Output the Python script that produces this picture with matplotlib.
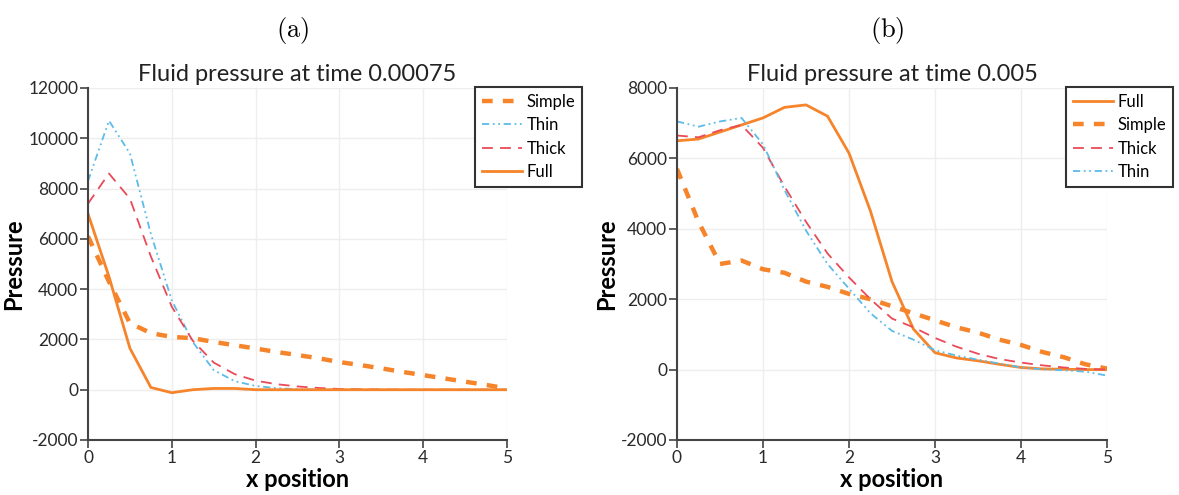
import matplotlib
matplotlib.use("Agg")
import matplotlib.pyplot as plt
import numpy as np

plt.rcParams['mathtext.fontset'] = 'cm'
plt.rcParams['font.family'] = ['Lato', 'DejaVu Sans']
plt.rcParams['axes.unicode_minus'] = False

x = [0, 0.25, 0.5, 0.75, 1.0, 1.25, 1.5, 1.75, 2.0, 2.25, 2.5, 2.75, 3.0,
     3.25, 3.5, 3.75, 4.0, 4.25, 4.5, 4.75, 5.0]

# Panel (a): time 0.00075
a_simple = [6100, 4300, 2650, 2250, 2100, 2050, 1900, 1770, 1640, 1500, 1380,
            1250, 1100, 980, 850, 710, 580, 450, 320, 190, 50]
a_thin = [8300, 10700, 9400, 6200, 3550, 1900, 780, 340, 150, 60, 20, 0, 0,
          0, 0, 0, 0, 0, 0, 0, 0]
a_thick = [7400, 8600, 7600, 5300, 3300, 1950, 1080, 620, 360, 220, 130, 70,
           30, 15, 5, 0, 0, 0, 0, 0, 0]
a_full = [7000, 4500, 1650, 90, -120, 0, 50, 50, 0, 0, 0, 0, 0, 0, 0, 0, 0,
          0, 0, 0, 0]

# Panel (b): time 0.005
b_full = [6500, 6550, 6750, 6950, 7150, 7450, 7520, 7200, 6150, 4500, 2500,
          1150, 480, 330, 250, 150, 60, 20, 10, 0, 0]
b_simple = [5700, 4200, 3000, 3100, 2850, 2750, 2500, 2350, 2150, 2000, 1800,
            1600, 1400, 1200, 1050, 850, 700, 500, 350, 150, 30]
b_thick = [6650, 6600, 6800, 6950, 6300, 5200, 4200, 3300, 2620, 2000, 1450,
           1200, 900, 650, 450, 300, 200, 120, 60, 20, 0]
b_thin = [7050, 6900, 7050, 7150, 6400, 5100, 3950, 3000, 2300, 1600, 1100,
          850, 550, 400, 280, 170, 60, 10, -20, -60, -170]

ORANGE = '#f6842a'
BLUE = '#5cbbe9'
RED = '#ea4a58'

styles = {
    'Simple': dict(color=ORANGE, lw=3.2, dashes=(2.4, 2.3)),
    'Thin': dict(color=BLUE, lw=1.3, dashes=(4, 2, 1, 2, 1, 2)),
    'Thick': dict(color=RED, lw=1.3, dashes=(6, 4)),
    'Full': dict(color=ORANGE, lw=2.0, linestyle='-'),
}

fig = plt.figure(figsize=(11.79, 4.95), dpi=100)

panels = [
    dict(rect=[88/1179, 1-440/495, (507-88)/1179, (440-88)/495],
         title='Fluid pressure at time 0.00075', tag='(a)',
         ylim=(-2000, 12000), yticks=np.arange(-2000, 12001, 2000),
         series=[('Simple', a_simple), ('Thin', a_thin), ('Thick', a_thick), ('Full', a_full)],
         leg=(475/1179, 1-87/495)),
    dict(rect=[677/1179, 1-440/495, (1107-677)/1179, (440-88)/495],
         title='Fluid pressure at time 0.005', tag='(b)',
         ylim=(-2000, 8000), yticks=np.arange(-2000, 8001, 2000),
         series=[('Full', b_full), ('Simple', b_simple), ('Thick', b_thick), ('Thin', b_thin)],
         leg=(1066/1179, 1-87/495)),
]

for p in panels:
    ax = fig.add_axes(p['rect'])
    for name, vals in p['series']:
        st = dict(styles[name])
        ax.plot(x, vals, label=name, **st)
    ax.set_xlim(0, 5)
    ax.set_ylim(*p['ylim'])
    ax.set_yticks(p['yticks'])
    ax.set_xticks([0, 1, 2, 3, 4, 5])
    ax.grid(True, color='#eeeeee', lw=1.0)
    ax.set_axisbelow(True)
    for s in ['top', 'right']:
        ax.spines[s].set_visible(False)
    for s in ['left', 'bottom']:
        ax.spines[s].set_color('#444444')
        ax.spines[s].set_linewidth(1.5)
    ax.tick_params(axis='both', colors='#444444', labelcolor='#2a2a2a',
                   labelsize=12.5, length=6, width=1.2, pad=1)
    ax.set_title(p['title'], fontsize=17, color='#222222', pad=5)
    ax.set_xlabel('x position', fontsize=17, fontweight='bold', labelpad=1.5)
    ax.set_ylabel('Pressure', fontsize=17, fontweight='bold', labelpad=2)
    leg = ax.legend(loc='upper left', bbox_to_anchor=p['leg'],
                    bbox_transform=fig.transFigure, fontsize=12,
                    frameon=True, fancybox=False, framealpha=1,
                    edgecolor='#333333', handlelength=2.4, handletextpad=0.3,
                    borderpad=0.4, labelspacing=0.45, borderaxespad=0)
    leg.get_frame().set_linewidth(1.5)
    bb = p['rect']
    fig.text(bb[0] + bb[2]/2 - 0.004, 1 - 30/495, r'$\mathrm{' + p['tag'] + '}$',
             fontsize=19, ha='center', va='center')

fig.savefig('out.png', dpi=100)
